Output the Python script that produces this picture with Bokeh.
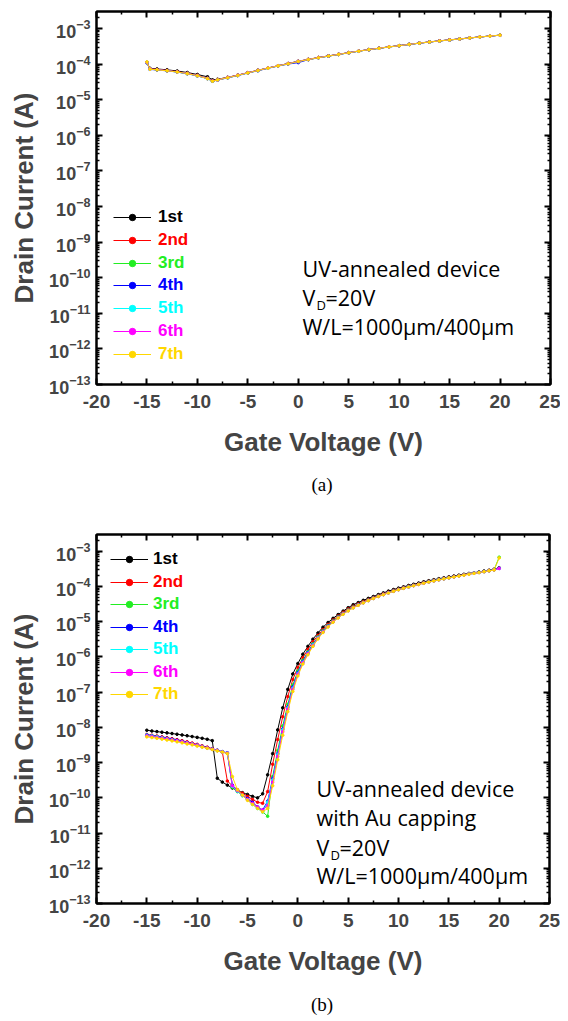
from bokeh.plotting import figure
from bokeh.layouts import column, row
from bokeh.models import (FixedTicker, LogAxis, LinearAxis, LogTickFormatter,
                          CustomJSTickFormatter, Legend, LegendItem, Label, Range1d, Div, Spacer)
from bokeh.embed import file_html
from bokeh.resources import INLINE

# ---------------- data ----------------
SERIES_NAMES = ["1st", "2nd", "3rd", "4th", "5th", "6th", "7th"]
SERIES_COLORS = ["#000000", "#ff0000", "#22ee22", "#0000ff", "#00ffff", "#ff00ff", "#ffd700"]

X_TICKS = [-20, -15, -10, -5, 0, 5, 10, 15, 20, 25]
X_TICK_LABELS = ["-20", "-15", "-10", "-5", "0", "5", "10", "15", "20", "25"]
Y_TICKS = [1e-13, 1e-12, 1e-11, 1e-10, 1e-9, 1e-8, 1e-7, 1e-6, 1e-5, 1e-4, 1e-3]
X_LABEL = "Gate Voltage (V)"
Y_LABEL = "Drain Current (A)"
CAPTIONS = ["(a)", "(b)"]

# panel (a): UV-annealed device
vg_a = [-15, -14.7, -14, -13, -12, -11, -10, -9, -8.5, -8, -7, -6, -5, -4, -3, -2, -1,
        0, 1, 2, 3, 4, 5, 6, 7, 8, 9, 10, 11, 12, 13, 14, 15, 16, 17, 18, 19, 20]
id_a_1st = [1.12e-4, 7.6e-5, 7.3e-5, 6.9e-5, 6.4e-5, 5.8e-5, 5.1e-5, 4.4e-5, 3.6e-5, 3.75e-5,
            4.25e-5, 4.9e-5, 5.75e-5, 6.7e-5, 7.8e-5, 9.0e-5, 1.04e-4, 1.2e-4, 1.36e-4, 1.53e-4,
            1.7e-4, 1.89e-4, 2.1e-4, 2.33e-4, 2.56e-4, 2.8e-4, 3.05e-4, 3.3e-4, 3.6e-4, 3.9e-4,
            4.2e-4, 4.5e-4, 4.8e-4, 5.1e-4, 5.45e-4, 5.8e-4, 6.15e-4, 6.5e-4]
id_a_2nd = [1.1e-4, 7.3e-5, 7.0e-5, 6.6e-5, 6.1e-5, 5.5e-5, 4.8e-5, 4.0e-5, 3.4e-5, 3.65e-5,
            4.2e-5, 4.85e-5, 5.7e-5, 6.65e-5, 7.75e-5, 8.95e-5, 1.03e-4, 1.19e-4, 1.35e-4, 1.52e-4,
            1.69e-4, 1.88e-4, 2.09e-4, 2.32e-4, 2.55e-4, 2.79e-4, 3.04e-4, 3.29e-4, 3.58e-4, 3.88e-4,
            4.18e-4, 4.48e-4, 4.78e-4, 5.08e-4, 5.43e-4, 5.78e-4, 6.13e-4, 6.48e-4]
id_a_3rd = [1.08e-4, 7.2e-5, 6.9e-5, 6.5e-5, 6.0e-5, 5.4e-5, 4.7e-5, 3.95e-5, 3.35e-5, 3.6e-5,
            4.15e-5, 4.8e-5, 5.65e-5, 6.6e-5, 7.7e-5, 8.9e-5, 1.02e-4, 1.18e-4, 1.34e-4, 1.51e-4,
            1.68e-4, 1.87e-4, 2.08e-4, 2.31e-4, 2.54e-4, 2.78e-4, 3.03e-4, 3.28e-4, 3.57e-4, 3.87e-4,
            4.17e-4, 4.47e-4, 4.77e-4, 5.07e-4, 5.42e-4, 5.77e-4, 6.12e-4, 6.5e-4]
id_a_4th = [1.1e-4, 7.1e-5, 6.8e-5, 6.45e-5, 5.95e-5, 5.35e-5, 4.65e-5, 3.9e-5, 3.3e-5, 3.55e-5,
            4.1e-5, 4.75e-5, 5.6e-5, 6.5e-5, 7.6e-5, 8.8e-5, 1.0e-4, 1.1e-4, 1.33e-4, 1.5e-4,
            1.67e-4, 1.86e-4, 2.07e-4, 2.3e-4, 2.53e-4, 2.77e-4, 3.02e-4, 3.27e-4, 3.56e-4, 3.86e-4,
            4.16e-4, 4.46e-4, 4.76e-4, 5.06e-4, 5.41e-4, 5.76e-4, 6.11e-4, 6.46e-4]
id_a_5th = [1.09e-4, 7.2e-5, 6.9e-5, 6.5e-5, 6.0e-5, 5.4e-5, 4.7e-5, 3.9e-5, 3.3e-5, 3.6e-5,
            4.15e-5, 4.8e-5, 5.65e-5, 6.6e-5, 7.7e-5, 8.9e-5, 1.02e-4, 1.18e-4, 1.34e-4, 1.51e-4,
            1.68e-4, 1.87e-4, 2.08e-4, 2.31e-4, 2.54e-4, 2.78e-4, 3.03e-4, 3.28e-4, 3.57e-4, 3.87e-4,
            4.17e-4, 4.47e-4, 4.77e-4, 5.07e-4, 5.42e-4, 5.77e-4, 6.12e-4, 6.47e-4]
id_a_6th = [1.1e-4, 7.3e-5, 7.0e-5, 6.55e-5, 6.05e-5, 5.45e-5, 4.75e-5, 3.95e-5, 3.35e-5, 3.6e-5,
            4.2e-5, 4.85e-5, 5.7e-5, 6.65e-5, 7.75e-5, 8.95e-5, 1.03e-4, 1.19e-4, 1.35e-4, 1.52e-4,
            1.69e-4, 1.88e-4, 2.09e-4, 2.32e-4, 2.55e-4, 2.79e-4, 3.04e-4, 3.29e-4, 3.58e-4, 3.88e-4,
            4.18e-4, 4.48e-4, 4.78e-4, 5.08e-4, 5.43e-4, 5.78e-4, 6.13e-4, 6.48e-4]
id_a_7th = [1.15e-4, 7.2e-5, 6.9e-5, 6.5e-5, 6.0e-5, 5.4e-5, 4.7e-5, 3.9e-5, 3.3e-5, 3.6e-5,
            4.15e-5, 4.8e-5, 5.65e-5, 6.6e-5, 7.7e-5, 8.9e-5, 1.02e-4, 1.18e-4, 1.34e-4, 1.51e-4,
            1.68e-4, 1.87e-4, 2.08e-4, 2.31e-4, 2.54e-4, 2.78e-4, 3.03e-4, 3.28e-4, 3.57e-4, 3.87e-4,
            4.17e-4, 4.47e-4, 4.77e-4, 5.07e-4, 5.42e-4, 5.77e-4, 6.12e-4, 6.5e-4]

# panel (b): UV-annealed device with Au capping
vg_b = [-15, -14.5, -14, -13.5, -13, -12.5, -12, -11.5, -11, -10.5, -10, -9.5, -9, -8.5,
        -8, -7.5, -7, -6.5, -6, -5.5, -5, -4.5, -4, -3.5, -3, -2.5, -2, -1.5, -1, -0.5,
        0, 0.5, 1, 1.5, 2, 2.5, 3, 3.5, 4, 4.5, 5, 5.5, 6, 6.5, 7, 7.5, 8, 8.5, 9, 9.5,
        10, 10.5, 11, 11.5, 12, 12.5, 13, 13.5, 14, 14.5, 15, 15.5, 16, 16.5, 17, 17.5,
        18, 18.5, 19, 19.5, 20]
id_b_1st = [8.3e-9, 7.9e-9, 7.6e-9, 7.3e-9, 7.0e-9, 6.7e-9, 6.4e-9, 6.1e-9, 5.8e-9, 5.5e-9,
            5.2e-9, 4.9e-9, 4.6e-9, 4.2e-9,
            3.6e-10, 2.8e-10, 2.3e-10, 1.9e-10, 1.6e-10, 1.4e-10, 1.25e-10, 1.1e-10, 1.0e-10, 1.3e-10, 4.5e-10,
            1.8e-9, 8.5e-9, 3.6e-8, 1.2e-7, 3.3e-7,
            6.5e-7, 1.2e-6, 2.0e-6, 3.2e-6, 4.8e-6, 7.0e-6, 9.5e-6, 1.25e-5, 1.6e-5, 2.0e-5, 2.5e-5,
            3.05e-5, 3.5e-5, 4.05e-5, 4.6e-5, 5.2e-5, 5.9e-5, 6.6e-5, 7.4e-5, 8.2e-5, 9.0e-5,
            9.8e-5, 1.07e-4, 1.16e-4, 1.26e-4, 1.36e-4, 1.46e-4, 1.56e-4, 1.67e-4, 1.77e-4, 1.88e-4,
            1.99e-4, 2.1e-4, 2.22e-4, 2.35e-4, 2.47e-4, 2.6e-4, 2.75e-4, 2.9e-4, 3.1e-4, 3.4e-4]
id_b_2nd = [6.3e-9, 6.0e-9, 5.7e-9, 5.4e-9, 5.1e-9, 4.8e-9, 4.5e-9, 4.2e-9, 3.9e-9, 3.6e-9,
            3.3e-9, 3.0e-9, 2.75e-9, 2.5e-9, 2.25e-9, 2.0e-9,
            3.0e-10, 2.2e-10, 1.7e-10, 1.35e-10, 1.1e-10, 9e-11, 7.5e-11, 7e-11, 1.5e-10,
            9e-10, 4.5e-9, 2.0e-8, 7.5e-8, 2.3e-7,
            5.0e-7, 9.5e-7, 1.65e-6, 2.7e-6, 4.1e-6, 6.0e-6, 8.4e-6, 1.12e-5, 1.45e-5, 1.85e-5, 2.3e-5,
            2.75e-5, 3.2e-5, 3.7e-5, 4.25e-5, 4.85e-5, 5.5e-5, 6.2e-5, 6.9e-5, 7.7e-5, 8.5e-5,
            9.3e-5, 1.01e-4, 1.1e-4, 1.19e-4, 1.29e-4, 1.39e-4, 1.49e-4, 1.6e-4, 1.7e-4, 1.81e-4,
            1.92e-4, 2.04e-4, 2.16e-4, 2.29e-4, 2.42e-4, 2.55e-4, 2.7e-4, 2.85e-4, 3.05e-4, 3.35e-4]
id_b_3rd = [6.0e-9, 5.7e-9, 5.4e-9, 5.1e-9, 4.8e-9, 4.5e-9, 4.2e-9, 3.9e-9, 3.6e-9, 3.35e-9,
            3.1e-9, 2.85e-9, 2.6e-9, 2.4e-9, 2.2e-9, 2.0e-9, 1.85e-9,
            2.0e-10, 1.5e-10, 1.15e-10, 9e-11, 7e-11, 5.5e-11, 4e-11, 3e-11,
            4e-10, 2.2e-9, 1.1e-8, 4.5e-8, 1.6e-7,
            4.0e-7, 8.0e-7, 1.4e-6, 2.35e-6, 3.7e-6, 5.5e-6, 7.8e-6, 1.05e-5, 1.37e-5, 1.73e-5, 2.15e-5,
            2.6e-5, 3.05e-5, 3.55e-5, 4.1e-5, 4.7e-5, 5.35e-5, 6.0e-5, 6.7e-5, 7.5e-5, 8.3e-5,
            9.1e-5, 9.9e-5, 1.08e-4, 1.17e-4, 1.27e-4, 1.37e-4, 1.47e-4, 1.58e-4, 1.68e-4, 1.79e-4,
            1.9e-4, 2.02e-4, 2.14e-4, 2.27e-4, 2.4e-4, 2.53e-4, 2.68e-4, 2.83e-4, 3.0e-4, 6.8e-4]
id_b_4th = [6.1e-9, 5.8e-9, 5.5e-9, 5.2e-9, 4.9e-9, 4.6e-9, 4.3e-9, 4.0e-9, 3.7e-9, 3.4e-9,
            3.15e-9, 2.9e-9, 2.65e-9, 2.45e-9, 2.25e-9, 2.05e-9, 1.9e-9,
            2.3e-10, 1.6e-10, 1.2e-10, 9.5e-11, 7.5e-11, 5.5e-11, 4.5e-11, 8e-11,
            3.5e-10, 1.8e-9, 9e-9, 3.8e-8, 1.4e-7,
            3.6e-7, 7.4e-7, 1.33e-6, 2.25e-6, 3.55e-6, 5.3e-6, 7.5e-6, 1.02e-5, 1.34e-5, 1.7e-5, 2.1e-5,
            2.55e-5, 3.0e-5, 3.5e-5, 4.05e-5, 4.65e-5, 5.3e-5, 5.95e-5, 6.65e-5, 7.4e-5, 8.2e-5,
            9.0e-5, 9.8e-5, 1.07e-4, 1.16e-4, 1.26e-4, 1.36e-4, 1.46e-4, 1.57e-4, 1.67e-4, 1.78e-4,
            1.89e-4, 2.01e-4, 2.13e-4, 2.26e-4, 2.39e-4, 2.52e-4, 2.67e-4, 2.82e-4, 3.0e-4, 3.3e-4]
id_b_5th = [6.0e-9, 5.7e-9, 5.4e-9, 5.1e-9, 4.8e-9, 4.5e-9, 4.2e-9, 3.95e-9, 3.65e-9, 3.4e-9,
            3.1e-9, 2.85e-9, 2.6e-9, 2.4e-9, 2.2e-9, 2.0e-9, 1.85e-9,
            2.1e-10, 1.55e-10, 1.15e-10, 9e-11, 6.5e-11, 5e-11, 4e-11, 7.5e-11,
            3.2e-10, 1.7e-9, 8.5e-9, 3.6e-8, 1.3e-7,
            3.4e-7, 7.1e-7, 1.28e-6, 2.2e-6, 3.5e-6, 5.2e-6, 7.4e-6, 1.0e-5, 1.32e-5, 1.68e-5, 2.08e-5,
            2.52e-5, 2.98e-5, 3.48e-5, 4.02e-5, 4.62e-5, 5.26e-5, 5.92e-5, 6.62e-5, 7.38e-5, 8.16e-5,
            8.96e-5, 9.76e-5, 1.065e-4, 1.155e-4, 1.25e-4, 1.35e-4, 1.45e-4, 1.56e-4, 1.66e-4, 1.77e-4,
            1.88e-4, 2.0e-4, 2.12e-4, 2.25e-4, 2.38e-4, 2.51e-4, 2.66e-4, 2.81e-4, 2.98e-4, 3.28e-4]
id_b_6th = [5.8e-9, 5.5e-9, 5.2e-9, 4.95e-9, 4.7e-9, 4.4e-9, 4.15e-9, 3.9e-9, 3.6e-9, 3.35e-9,
            3.1e-9, 2.85e-9, 2.6e-9, 2.4e-9, 2.2e-9, 2.0e-9, 1.85e-9,
            2.2e-10, 1.6e-10, 1.2e-10, 9e-11, 7e-11, 5.5e-11, 4.5e-11, 6e-11,
            2.8e-10, 1.5e-9, 7.5e-9, 3.3e-8, 1.2e-7,
            3.2e-7, 6.8e-7, 1.24e-6, 2.1e-6, 3.4e-6, 5.1e-6, 7.3e-6, 9.9e-6, 1.3e-5, 1.66e-5, 2.06e-5,
            2.5e-5, 2.96e-5, 3.46e-5, 4.0e-5, 4.6e-5, 5.24e-5, 5.9e-5, 6.6e-5, 7.35e-5, 8.13e-5,
            8.93e-5, 9.73e-5, 1.06e-4, 1.15e-4, 1.245e-4, 1.345e-4, 1.445e-4, 1.55e-4, 1.655e-4, 1.765e-4,
            1.875e-4, 1.99e-4, 2.11e-4, 2.24e-4, 2.37e-4, 2.5e-4, 2.65e-4, 2.8e-4, 2.97e-4, 3.25e-4]
id_b_7th = [5.4e-9, 5.15e-9, 4.9e-9, 4.65e-9, 4.4e-9, 4.15e-9, 3.9e-9, 3.65e-9, 3.4e-9, 3.2e-9,
            2.95e-9, 2.75e-9, 2.55e-9, 2.35e-9, 2.15e-9, 2.0e-9, 1.8e-9,
            4e-10, 1.7e-10, 1.2e-10, 8.5e-11, 6.5e-11, 5e-11, 4e-11, 5e-11,
            2.2e-10, 1.2e-9, 6e-9, 2.8e-8, 1.05e-7,
            2.9e-7, 6.3e-7, 1.16e-6, 2.0e-6, 3.25e-6, 4.95e-6, 7.1e-6, 9.7e-6, 1.28e-5, 1.63e-5, 2.03e-5,
            2.47e-5, 2.93e-5, 3.43e-5, 3.97e-5, 4.57e-5, 5.2e-5, 5.86e-5, 6.56e-5, 7.3e-5, 8.08e-5,
            8.88e-5, 9.68e-5, 1.055e-4, 1.145e-4, 1.24e-4, 1.34e-4, 1.44e-4, 1.545e-4, 1.65e-4, 1.76e-4,
            1.87e-4, 1.98e-4, 2.1e-4, 2.23e-4, 2.36e-4, 2.49e-4, 2.64e-4, 2.79e-4, 2.96e-4, 6.5e-4]

TEXT_A = ["UV-annealed device", "V|D|=20V", "W/L=1000\u03bcm/400\u03bcm"]
TEXT_B = ["UV-annealed device", "with Au capping", "V|D|=20V", "W/L=1000\u03bcm/400\u03bcm"]

# ---------------- styling helpers ----------------
X_MINOR = [t + 2.5 for t in X_TICKS[:-1]]
Y_MINOR = [m * t for t in Y_TICKS for m in range(2, 10) if m * t < 3e-3]
SANS = "Liberation Sans"
NOTE_FONT = "Open Sans"


def style_axis(ax):
    ax.axis_line_width = 2
    ax.axis_line_color = "black"
    ax.major_tick_in = 6
    ax.major_tick_out = 0
    ax.minor_tick_in = 3
    ax.minor_tick_out = 0
    ax.major_tick_line_width = 2
    ax.minor_tick_line_width = 1.5
    ax.major_tick_line_color = "black"
    ax.minor_tick_line_color = "black"


def blank():
    return CustomJSTickFormatter(code="return ''")


def make_panel(vg, ys, lines, fl, fw, fh, bt, bb, leg_x, leg_y0, leg_dy, leg_standoff,
               tx, ty_list):
    p = figure(frame_width=fw, frame_height=fh, min_border_left=fl, min_border_right=11,
               min_border_top=bt, min_border_bottom=bb,
               x_range=Range1d(-20, 25), y_range=Range1d(1e-13, 3e-3), y_axis_type="log",
               output_backend="svg", toolbar_location=None)
    p.xgrid.visible = False
    p.ygrid.visible = False
    p.outline_line_color = "black"
    p.outline_line_width = 2
    p.background_fill_color = "white"
    p.border_fill_color = "white"

    xax = p.xaxis[0]
    xax.ticker = FixedTicker(ticks=X_TICKS, minor_ticks=X_MINOR)
    xax.major_label_overrides = {t: l for t, l in zip(X_TICKS, X_TICK_LABELS)}
    style_axis(xax)
    xax.major_label_text_font = SANS
    xax.major_label_text_font_style = "bold"
    xax.major_label_text_font_size = "19px"
    xax.major_label_standoff = 10
    xax.axis_label = X_LABEL
    xax.axis_label_text_font = SANS
    xax.axis_label_text_font_style = "bold"
    xax.axis_label_text_font_size = "26px"
    xax.axis_label_standoff = 16

    yax = p.yaxis[0]
    yax.ticker = FixedTicker(ticks=Y_TICKS, minor_ticks=Y_MINOR)
    yax.formatter = LogTickFormatter()
    style_axis(yax)
    yax.major_label_text_font = SANS
    yax.major_label_text_font_style = "bold"
    yax.major_label_text_font_size = "18px"
    yax.major_label_standoff = 6
    yax.axis_label = Y_LABEL
    yax.axis_label_text_font = SANS
    yax.axis_label_text_font_style = "bold"
    yax.axis_label_text_font_size = "26px"
    yax.axis_label_standoff = 7

    rax = LogAxis(ticker=FixedTicker(ticks=Y_TICKS, minor_ticks=Y_MINOR), formatter=blank(),
                  major_label_standoff=0)
    style_axis(rax)
    p.add_layout(rax, "right")
    tax = LinearAxis(ticker=FixedTicker(ticks=X_TICKS, minor_ticks=X_MINOR), formatter=blank(),
                     major_label_standoff=0)
    style_axis(tax)
    p.add_layout(tax, "above")

    for i, (name, color, yv) in enumerate(zip(SERIES_NAMES, SERIES_COLORS, ys)):
        r1 = p.line(vg, yv, line_color=color, line_width=1)
        r2 = p.scatter(vg, yv, size=2.6, color=color)
        leg = Legend(items=[LegendItem(label=name, renderers=[r1, r2])],
                     location=(leg_x, leg_y0 - i * leg_dy),
                     padding=0, margin=0, spacing=0, border_line_alpha=0,
                     background_fill_alpha=0, glyph_width=38, glyph_height=16,
                     label_height=16, label_standoff=leg_standoff,
                     label_text_font=SANS, label_text_font_style="bold",
                     label_text_font_size="17px", label_text_color=color,
                     label_text_baseline="middle")
        p.add_layout(leg)

    for line, ty in zip(lines, ty_list):
        if "|" in line:
            a, b, c = line.split("|")
            p.add_layout(Label(x=tx, y=ty, x_units="screen", y_units="screen", text=a,
                               text_font=NOTE_FONT, text_font_size="21.5px",
                               text_baseline="middle", text_color="black"))
            p.add_layout(Label(x=tx + 14, y=ty - 7, x_units="screen", y_units="screen", text=b,
                               text_font=NOTE_FONT, text_font_size="13px",
                               text_baseline="middle", text_color="black"))
            p.add_layout(Label(x=tx + 23, y=ty, x_units="screen", y_units="screen", text=c,
                               text_font=NOTE_FONT, text_font_size="21.5px",
                               text_baseline="middle", text_color="black"))
        else:
            p.add_layout(Label(x=tx, y=ty, x_units="screen", y_units="screen", text=line,
                               text_font=NOTE_FONT, text_font_size="21.5px",
                               text_baseline="middle", text_color="black"))
    return p


def caption(text, h):
    d = Div(text=text, width=452, height=h, margin=0,
            styles={"font-family": "Liberation Serif", "font-size": "19px",
                    "line-height": f"{h}px", "text-align": "center", "color": "black"})
    return row(Spacer(width=96, height=h, margin=0), d, margin=0)


ys_a = [id_a_1st, id_a_2nd, id_a_3rd, id_a_4th, id_a_5th, id_a_6th, id_a_7th]
ys_b = [id_b_1st, id_b_2nd, id_b_3rd, id_b_4th, id_b_5th, id_b_6th, id_b_7th]

# panel a: 11 + 373 + 85 = 469 px; caption row 32 px; panel b: 33 + 369 + 85 = 487 px;
# caption row 33 px -> 1021 px in all
p1 = make_panel(vg_a, ys_a, TEXT_A, fl=95, fw=454, fh=373, bt=11, bb=85,
                leg_x=17, leg_y0=157, leg_dy=22.8, leg_standoff=7,
                tx=206, ty_list=[116, 87, 58])
p2 = make_panel(vg_b, ys_b, TEXT_B, fl=96, fw=453, fh=369, bt=33, bb=85,
                leg_x=14, leg_y0=334, leg_dy=22.5, leg_standoff=5,
                tx=220, ty_list=[115, 86, 56, 28])

layout = column(p1, caption(CAPTIONS[0], 32), p2, caption(CAPTIONS[1], 33), spacing=0)
open("out.html", "w").write(file_html(layout, INLINE))
